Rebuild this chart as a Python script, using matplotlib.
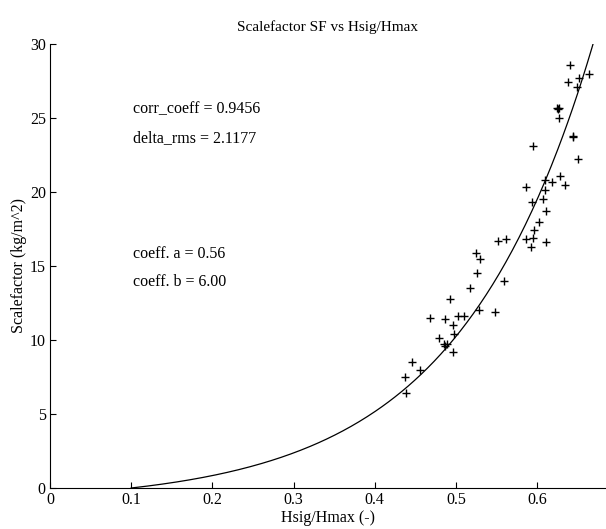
import numpy as np
import matplotlib
matplotlib.use("Agg")
import matplotlib.pyplot as plt

hsig_hmax = [0.641, 0.664, 0.652, 0.638, 0.649, 0.625, 0.627, 0.626, 0.627,
             0.644, 0.644, 0.595, 0.651, 0.628, 0.610, 0.618, 0.635, 0.587,
             0.610, 0.594, 0.607, 0.611, 0.603, 0.596, 0.595, 0.587, 0.552,
             0.562, 0.611, 0.593, 0.525, 0.530, 0.526, 0.559, 0.517, 0.493,
             0.468, 0.487, 0.503, 0.510, 0.528, 0.548, 0.497, 0.498, 0.479,
             0.486, 0.489, 0.487, 0.497, 0.446, 0.456, 0.437, 0.438]
scalefactor = [28.6, 28.0, 27.7, 27.4, 27.1, 25.7, 25.7, 25.6, 25.0,
               23.8, 23.7, 23.1, 22.2, 21.1, 20.8, 20.7, 20.5, 20.3,
               20.1, 19.3, 19.5, 18.7, 18.0, 17.4, 16.9, 16.8, 16.7,
               16.8, 16.6, 16.3, 15.9, 15.5, 14.5, 14.0, 13.5, 12.8,
               11.5, 11.4, 11.6, 11.6, 12.0, 11.9, 11.0, 10.4, 10.1,
               9.7, 9.7, 9.6, 9.2, 8.5, 8.0, 7.5, 6.4]

# fit coefficients shown on the chart
coeff_a = 0.56
coeff_b = 6.00
corr_coeff = 0.9456
delta_rms = 2.1177
x_start = 0.1

xfit = np.linspace(x_start, 0.7, 300)
yfit = coeff_a * (np.exp(coeff_b * xfit) - np.exp(coeff_b * x_start))

plt.rcParams['font.family'] = ['Liberation Serif', 'DejaVu Serif']

fig = plt.figure(figsize=(6.06, 5.29), dpi=100)
ax = fig.add_axes([0.0825, 0.0775, 0.9175, 0.8395])

ax.plot(xfit, yfit, color='black', linewidth=0.9)
ax.plot(hsig_hmax, scalefactor, linestyle='none', marker='+', color='black',
        markersize=6, markeredgewidth=1.0)

ax.set_xlim(0, 0.685)
ax.set_ylim(0, 30)
ax.set_xticks([0, 0.1, 0.2, 0.3, 0.4, 0.5, 0.6])
ax.set_xticklabels(['0', '0.1', '0.2', '0.3', '0.4', '0.5', '0.6'])
ax.set_yticks([0, 5, 10, 15, 20, 25, 30])

ax.spines['top'].set_visible(False)
ax.spines['right'].set_visible(False)
ax.spines['left'].set_linewidth(0.8)
ax.spines['bottom'].set_linewidth(0.8)
ax.tick_params(direction='in', length=4, width=0.8, labelsize=11.5, pad=3)

ax.set_title('Scalefactor SF vs Hsig/Hmax', fontsize=11, pad=9)
ax.set_xlabel('Hsig/Hmax (-)', fontsize=11.5, labelpad=1)
ax.set_ylabel('Scalefactor (kg/m^2)', fontsize=11.5, labelpad=2)

ax.text(0.102, 25.6, 'corr_coeff = %.4f' % corr_coeff, fontsize=11.5, va='center')
ax.text(0.102, 23.65, 'delta_rms = %.4f' % delta_rms, fontsize=11.5, va='center')
ax.text(0.102, 15.8, 'coeff. a = %.2f' % coeff_a, fontsize=11.5, va='center')
ax.text(0.102, 13.9, 'coeff. b = %.2f' % coeff_b, fontsize=11.5, va='center')

fig.savefig('out.png', dpi=100)
